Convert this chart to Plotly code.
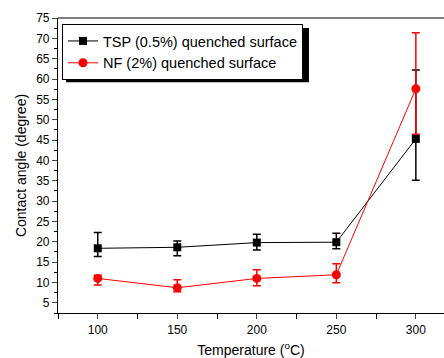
import plotly.graph_objects as go

temperature = [100, 150, 200, 250, 300]
tsp_angle = [18.4, 18.65, 19.8, 19.9, 45.3]
tsp_err_plus = [3.9, 1.55, 2.05, 2.2, 16.9]
tsp_err_minus = [2.0, 2.05, 1.8, 1.6, 10.2]
nf_angle = [11.0, 8.7, 11.0, 11.9, 57.6]
nf_err_plus = [0.8, 2.0, 2.1, 2.7, 13.8]
nf_err_minus = [1.6, 1.0, 1.8, 1.95, 11.2]
y_ticks = list(range(5, 80, 5))
x_ticks = [100, 150, 200, 250, 300]

FONT = "Liberation Sans, Arial, sans-serif"

fig = go.Figure()
fig.add_trace(go.Scatter(
    x=temperature, y=tsp_angle, mode="lines+markers",
    name="TSP (0.5%) quenched surface",
    line=dict(color="black", width=1),
    marker=dict(symbol="square", size=8, color="black"),
    error_y=dict(type="data", symmetric=False, array=tsp_err_plus,
                 arrayminus=tsp_err_minus, color="black", thickness=1.5, width=4),
))
fig.add_trace(go.Scatter(
    x=temperature, y=nf_angle, mode="lines+markers",
    name="NF (2%) quenched surface",
    line=dict(color="red", width=1),
    marker=dict(symbol="circle", size=9, color="red"),
    error_y=dict(type="data", symmetric=False, array=nf_err_plus,
                 arrayminus=nf_err_minus, color="red", thickness=1.5, width=4),
))

W, H = 386, 294.4
L, T = 58, 18
def px(x):
    return (x - L) / W
def py(y):
    return 1 - (y - T) / H

# legend shadow
fig.add_shape(type="rect", xref="paper", yref="paper",
              x0=px(66), x1=px(309), y0=py(82), y1=py(28),
              fillcolor="black", line=dict(width=0), layer="above")
# top frame line
fig.add_shape(type="line", xref="paper", yref="paper", x0=0, x1=1, y0=1, y1=1,
              line=dict(color="black", width=1.2))

fig.update_layout(
    width=444, height=358,
    margin=dict(l=58, r=0, t=18, b=45),
    paper_bgcolor="white", plot_bgcolor="white",
    font=dict(family=FONT, color="black", size=12),
    showlegend=True,
    legend=dict(x=px(62), y=py(24),
                xanchor="left", yanchor="top",
                bgcolor="white", bordercolor="black", borderwidth=1,
                font=dict(size=14.5, family=FONT), tracegroupgap=0,
                itemwidth=30),
    xaxis=dict(range=[75, 317.7], tickvals=x_ticks, ticks="outside", ticklen=5,
               tickwidth=1, showline=True, linecolor="black", linewidth=1.2,
               showgrid=False, zeroline=False,
               tickfont=dict(size=12),
               minor=dict(dtick=25, tick0=75, ticks="outside", ticklen=5, tickcolor="black"),
               title=dict(text="Temperature (<sup>o</sup>C)", font=dict(size=14), standoff=12)),
    yaxis=dict(range=[2.5, 75], tickvals=y_ticks, ticks="outside", ticklen=5,
               tickwidth=1, showline=True, linecolor="black", linewidth=1.2,
               showgrid=False, zeroline=False,
               tickfont=dict(size=12),
               minor=dict(dtick=2.5, tick0=0, ticks="outside", ticklen=3, tickcolor="black"),
               title=dict(text="Contact angle (degree)", font=dict(size=14), standoff=6)),
)

fig.write_html("out.html", config={"displayModeBar": False},
               post_script="document.body.style.margin='0px';")
